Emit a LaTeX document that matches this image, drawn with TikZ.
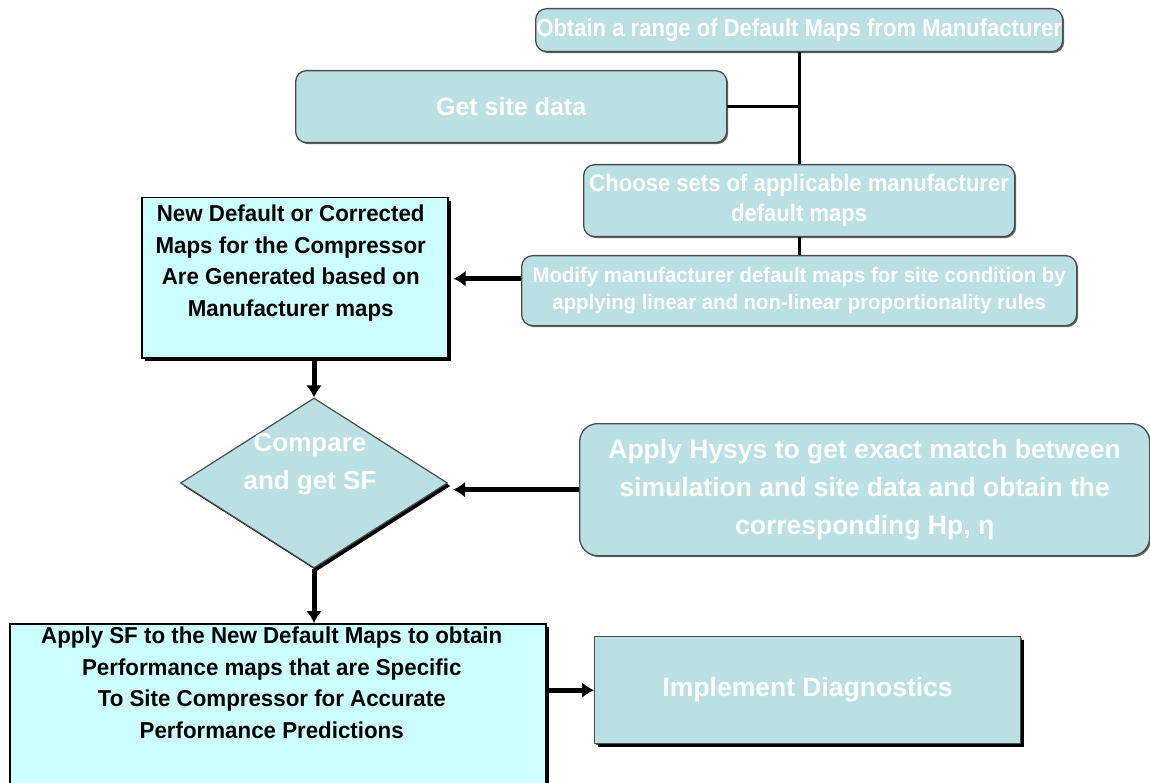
\documentclass[tikz,border=0pt]{standalone}
\usepackage{fontspec}
\setmainfont{Liberation Sans}
\newfontfamily\narrowa[FakeStretch=0.9]{Liberation Sans}
\newfontfamily\narrowb[FakeStretch=0.92]{Liberation Sans}
\newfontfamily\narrowc[FakeStretch=0.97]{Liberation Sans}
\usetikzlibrary{arrows.meta,shapes.geometric,shadows}
\definecolor{tealbox}{RGB}{186,224,227}
\definecolor{cyanbox}{RGB}{204,255,255}
\tikzset{
  rbox/.style={draw=black!70, line width=1.3pt, rounded corners=11pt, fill=tealbox,
    text=white, align=center, inner sep=0pt, anchor=north west,
    drop shadow={shadow xshift=1.5pt, shadow yshift=-1.5pt, fill=black!60, opacity=1}},
  sbox/.style={draw=black, line width=1.5pt, fill=cyanbox, inner sep=0pt, anchor=north west,
    drop shadow={shadow xshift=3pt, shadow yshift=-3pt, fill=black, opacity=1}},
  blacktxt/.style={text=black, align=center, inner sep=0pt, font=\bfseries\narrowc\fontsize{23}{31.5}\selectfont},
  conn/.style={draw=black, line width=3pt},
  arr/.style={draw=black, line width=5pt, -{Latex[length=12pt,width=16pt]}},
}
\begin{document}
\begin{tikzpicture}[x=1pt,y=-1pt]
\useasboundingbox (0,0) rectangle (1150,783);
% nodes
\node[rbox, minimum width=527pt, minimum height=43pt, font=\bfseries\narrowa\fontsize{24.5}{28}\selectfont]
  (obtain) at (535,8) {Obtain a range of Default Maps from Manufacturer};
\node[rbox, minimum width=431pt, minimum height=72pt, font=\bfseries\fontsize{25}{30}\selectfont]
  (site) at (295,70) {Get site data};
\node[rbox, minimum width=431pt, minimum height=72pt, font=\bfseries\narrowb\fontsize{24}{30}\selectfont]
  (choose) at (583,164) {Choose sets of applicable manufacturer\\default maps};
\node[rbox, minimum width=555pt, minimum height=70pt, font=\bfseries\narrowc\fontsize{21}{27}\selectfont]
  (modify) at (521,255) {Modify manufacturer default maps for site condition by\\applying linear and non-linear proportionality rules};
\node[sbox, minimum width=306pt, minimum height=160pt] (newdef) at (141,197) {};
\node[blacktxt, anchor=north] (newdeft) at ([xshift=-4pt,yshift=-8pt]newdef.north)
  {New Default or Corrected\\Maps for the Compressor\\Are Generated based on\\Manufacturer maps};
\node[diamond, draw=black!70, line width=1.2pt, fill=tealbox, inner sep=0pt,
  minimum width=267pt, minimum height=170pt, aspect=1.57,
  drop shadow={shadow xshift=3pt, shadow yshift=-3pt, fill=black, opacity=1}]
  (cmp) at (314,483) {};
\node[text=white, align=center, inner sep=0pt, font=\bfseries\fontsize{26}{38}\selectfont]
  (cmpt) at ([xshift=-4pt,yshift=19pt]cmp.center) {Compare\\and get SF};
\node[rbox, rounded corners=18pt, minimum width=570pt, minimum height=132pt, font=\bfseries\fontsize{26.5}{38}\selectfont]
  (hysys) at (579,423) {Apply Hysys to get exact match between\\simulation and site data and obtain the\\corresponding Hp, η};
\node[sbox, minimum width=536pt, minimum height=175pt] (applysf) at (9,623) {};
\node[blacktxt, anchor=north] (applysft) at ([xshift=-6pt,yshift=-4pt]applysf.north)
  {Apply SF to the New Default Maps to obtain\\Performance maps that are Specific\\To Site Compressor for Accurate\\Performance Predictions};
\node[rbox, rounded corners=0pt, minimum width=426pt, minimum height=107pt,
  drop shadow={shadow xshift=3pt, shadow yshift=-3pt, fill=black, opacity=1},
  font=\bfseries\fontsize{26.5}{30}\selectfont]
  (impl) at (594,636) {Implement Diagnostics};
% connectors
\draw[conn] (obtain.south) -- (choose.north);
\draw[conn] (site.east) -- (site.east -| obtain.south);
\draw[conn] (choose.south) -- (modify.north);
\draw[arr] ([yshift=12pt]modify.west) -- ([yshift=12pt,xshift=5pt]modify.west -| newdef.east);
\draw[arr] (cmp.north |- newdef.south) -- (cmp.north);
\draw[arr] (hysys.west) -- ([xshift=5pt]hysys.west -| cmp.east);
\draw[arr] (cmp.south) -- (cmp.south |- applysf.north);
\draw[arr] (applysf.east |- impl.west) -- (impl.west);
\end{tikzpicture}
\end{document}
